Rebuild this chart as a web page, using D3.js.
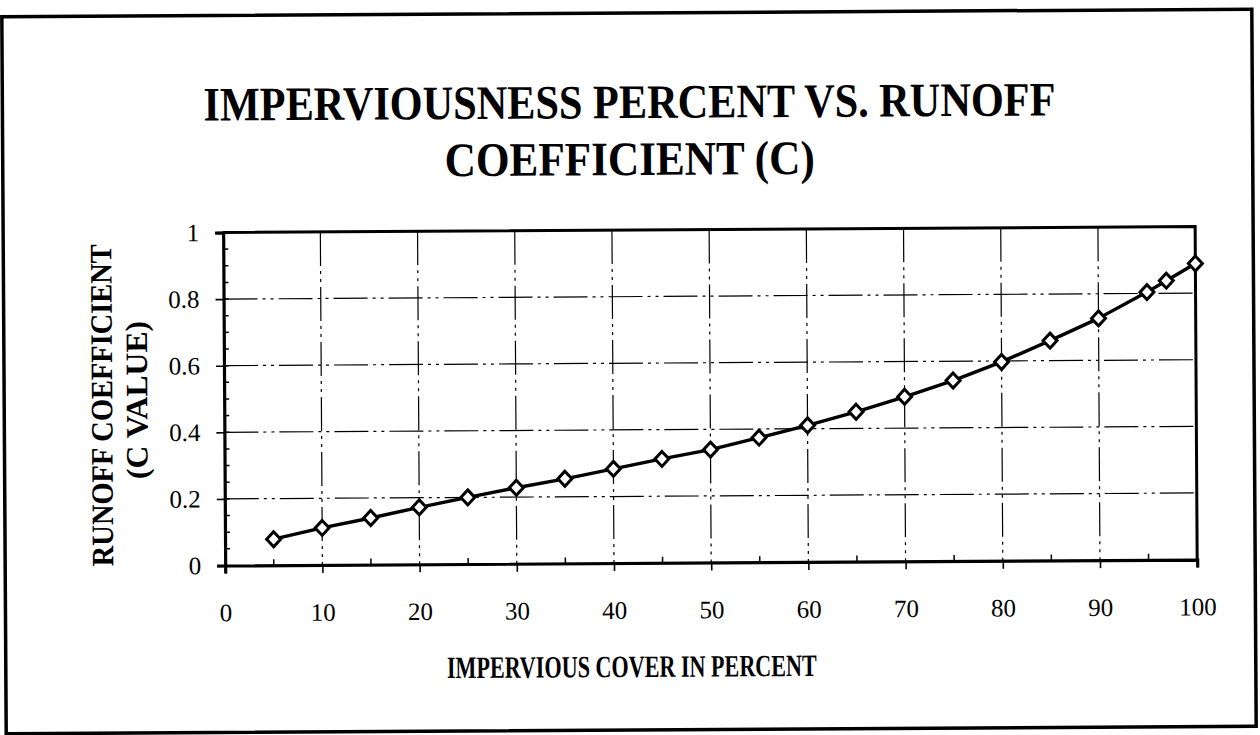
<!DOCTYPE html>
<html>
<head>
<meta charset="utf-8">
<script src="https://cdn.jsdelivr.net/npm/d3@7"></script>
<style>
  body { margin: 0; background: #fff; }
  svg { display: block; }
</style>
</head>
<body>
<svg id="chart" width="1260" height="735"></svg>
<script>
// Impervious cover (%) and the matching runoff coefficient C
const coverPct = [5, 10, 15, 20, 25, 30, 35, 40, 45, 50, 55, 60, 65, 70, 75, 80, 85, 90, 95, 97, 100];
const runoffC  = [0.078, 0.111, 0.14, 0.171, 0.2, 0.228, 0.254, 0.283, 0.312, 0.339, 0.374,
                  0.41, 0.45, 0.494, 0.542, 0.597, 0.66, 0.726, 0.804, 0.838, 0.889];

const xTicks = [0, 10, 20, 30, 40, 50, 60, 70, 80, 90, 100];
const yTicks = [0, 0.2, 0.4, 0.6, 0.8, 1];
const yTickLabels = ["0", "0.2", "0.4", "0.6", "0.8", "1"];

const titleLines = ["IMPERVIOUSNESS PERCENT VS. RUNOFF", "COEFFICIENT (C)"];
const xTitle = "IMPERVIOUS COVER IN PERCENT";
const yTitleLines = ["RUNOFF COEFFICIENT", "(C VALUE)"];

const serif = "'Liberation Serif', 'Times New Roman', 'DejaVu Serif', serif";

const svg = d3.select("#chart");
// the printed page sits very slightly askew
const root = svg.append("g").attr("transform", "rotate(-0.35 630 370)");

// outer frame
root.append("rect")
  .attr("x", 4).attr("y", 13).attr("width", 1250).attr("height", 717)
  .attr("fill", "none").attr("stroke", "#000").attr("stroke-width", 3.5);

// titles
root.selectAll("text.title").data(titleLines).join("text")
  .attr("class", "title")
  .attr("x", 631)
  .attr("y", (d, i) => 118 + i * 57)
  .attr("text-anchor", "middle")
  .attr("font-family", serif).attr("font-weight", "bold").attr("font-size", 48)
  .attr("textLength", (d, i) => i === 0 ? 852 : 370)
  .attr("lengthAdjust", "spacingAndGlyphs")
  .text(d => d);

const plot = { left: 224, right: 1196, top: 230, bottom: 563 };
const x = d3.scaleLinear().domain([0, 100]).range([plot.left, plot.right]);
const y = d3.scaleLinear().domain([0, 1]).range([plot.bottom, plot.top]);

// gridlines (printed as broken dash-dot rules)
const grid = root.append("g")
  .attr("stroke", "#000").attr("stroke-width", 1.2).attr("fill", "none")
  .attr("stroke-dasharray", "34 5 3 5 3 5");
grid.selectAll("line.gv").data(xTicks.filter(d => d > 0 && d < 100)).join("line")
  .attr("class", "gv")
  .attr("x1", d => x(d)).attr("x2", d => x(d))
  .attr("y1", y(1)).attr("y2", y(0));
grid.selectAll("line.gh").data(yTicks.filter(d => d > 0 && d < 1)).join("line")
  .attr("class", "gh")
  .attr("x1", x(0)).attr("x2", x(100))
  .attr("y1", d => y(d)).attr("y2", d => y(d));

// minor ticks, pointing into the plot
const minorX = d3.range(5, 100, 10);
const minorY = d3.range(0.05, 1, 0.05);
root.append("g").attr("stroke", "#000").attr("stroke-width", 1.5)
  .selectAll("line").data(minorX).join("line")
  .attr("x1", d => x(d)).attr("x2", d => x(d))
  .attr("y1", y(0)).attr("y2", y(0) - 6);
root.append("g").attr("stroke", "#000").attr("stroke-width", 1.5)
  .selectAll("line").data(minorY).join("line")
  .attr("x1", x(0)).attr("x2", x(0) + 5)
  .attr("y1", d => y(d)).attr("y2", d => y(d));

// axes
const xAxis = d3.axisBottom(x).tickValues(xTicks).tickSize(8).tickPadding(30).tickFormat(d3.format("d"));
const yAxis = d3.axisLeft(y).tickValues(yTicks).tickSize(8).tickPadding(16)
  .tickFormat((d, i) => yTickLabels[i]);

const gx = root.append("g").attr("transform", `translate(0,${plot.bottom})`).call(xAxis);
const gy = root.append("g").attr("transform", `translate(${plot.left},0)`).call(yAxis);
[gx, gy].forEach(g => {
  g.select(".domain").attr("stroke", "#000").attr("stroke-width", 3.2);
  g.selectAll(".tick line").attr("stroke", "#000").attr("stroke-width", 1.6);
  g.selectAll(".tick text")
    .attr("fill", "#000")
    .attr("font-family", serif).attr("font-size", 25);
});
gx.selectAll(".tick text").attr("dy", "0.71em");

// top and right plot border
root.append("path")
  .attr("d", `M${x(0)},${y(1)}H${x(100)}V${y(0)}`)
  .attr("fill", "none").attr("stroke", "#000").attr("stroke-width", 3);

// axis titles
root.append("text")
  .attr("x", 630).attr("y", 677)
  .attr("text-anchor", "middle")
  .attr("font-family", serif).attr("font-weight", "bold").attr("font-size", 31)
  .attr("textLength", 370).attr("lengthAdjust", "spacingAndGlyphs")
  .text(xTitle);

root.selectAll("text.ytitle").data(yTitleLines).join("text")
  .attr("class", "ytitle")
  .attr("transform", (d, i) => `translate(${i === 0 ? 112 : 147},${i === 0 ? 402 : 397}) rotate(-90)`)
  .attr("text-anchor", "middle")
  .attr("font-family", serif).attr("font-weight", "bold").attr("font-size", 31)
  .attr("textLength", (d, i) => i === 0 ? 322 : 158)
  .attr("lengthAdjust", "spacingAndGlyphs")
  .text(d => d);

// series line with diamond markers
const pts = coverPct.map((c, i) => [c, runoffC[i]]);
root.append("path")
  .datum(pts)
  .attr("fill", "none").attr("stroke", "#000").attr("stroke-width", 3.4)
  .attr("stroke-linejoin", "round")
  .attr("d", d3.line().x(d => x(d[0])).y(d => y(d[1])));

root.selectAll("path.marker").data(pts).join("path")
  .attr("class", "marker")
  .attr("transform", d => `translate(${x(d[0])},${y(d[1])})`)
  .attr("d", "M0,-7.5L7,0L0,7.5L-7,0Z")
  .attr("fill", "#fff").attr("stroke", "#000").attr("stroke-width", 3);
</script>
</body>
</html>
